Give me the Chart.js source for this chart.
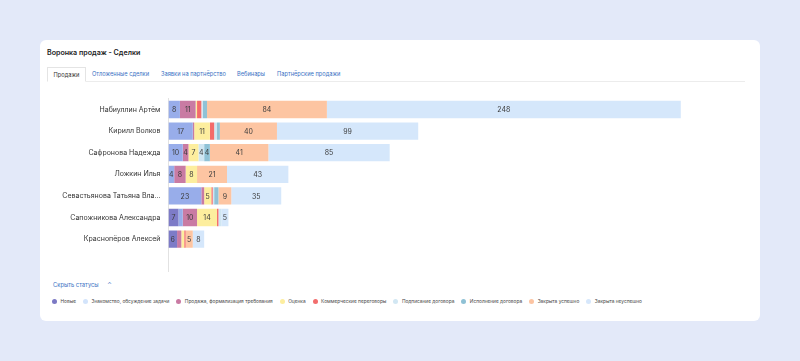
<!DOCTYPE html>
<html>
<head>
<meta charset="utf-8">
<script src="https://cdn.jsdelivr.net/npm/chart.js@4"></script>
<style>
  html, body { margin: 0; padding: 0; }
  body { width: 800px; height: 361px; background: #e3e9f9; font-family: Inter, "Noto Sans", sans-serif; position: relative; overflow: hidden; }
  .card { position: absolute; left: 40px; top: 40px; width: 720px; height: 281px; background: #fff; border-radius: 6px; }
  .title { position: absolute; left: 47px; top: 48px; font-size: 7.1px; font-weight: 600; color: #222; }
  .tabs { position: absolute; left: 47px; top: 67px; width: 698px; height: 14px; border-bottom: 1px solid #ececec; }
  .tab { position: absolute; top: 0; height: 14px; line-height: 14px; font-size: 5.7px; color: #3a72c4; white-space: nowrap; }
  .tab.active { color: #333; border: 1px solid #e4e4e4; border-bottom: 1px solid #fff; box-sizing: border-box; height: 15px; line-height: 13px; width: 39px; text-align: center; background: #fff; left: 0; }
  .chart-box { position: absolute; left: 47px; top: 90px; width: 698px; height: 182px; }
  .toggle { position: absolute; left: 53px; top: 281px; font-size: 5.8px; color: #3a72c4; }
  .toggle span { margin-left: 7px; display: inline-block; }
  .legend { position: absolute; left: 52px; top: 298px; display: flex; align-items: center; font-size: 4.8px; color: #444; white-space: nowrap; }
  .legend .item { display: flex; align-items: center; margin-right: 7px; }
  .legend .dot { width: 5px; height: 5px; border-radius: 50%; margin-right: 3.5px; }
</style>
</head>
<body>
<div class="card"></div>
<div class="title">Воронка продаж - Сделки</div>
<div class="tabs">
  <div class="tab active">Продажи</div>
  <div class="tab" style="left:45px">Отложенные сделки</div>
  <div class="tab" style="left:114px">Заявки на партнёрство</div>
  <div class="tab" style="left:190px">Вебинары</div>
  <div class="tab" style="left:230px">Партнёрские продажи</div>
</div>
<div class="chart-box"><canvas id="funnel"></canvas></div>
<div class="toggle">Скрыть статусы <span>&#8963;</span></div>
<div class="legend" id="legend"></div>

<script>
// ------------------------------
// Data
// ------------------------------

const managers = [
    "Набиуллин Артём",
    "Кирилл Волков",
    "Сафронова Надежда",
    "Ложкин Илья",
    "Севастьянова Татьяна Вла...",
    "Сапожникова Александра",
    "Краснопёров Алексей"
];

const statuses = [
    "Новые",
    "Знакомство, обсуждение задачи",
    "Продажа, формализация требования",
    "Оценка",
    "Коммерческие переговоры",
    "Подписание договора",
    "Исполнение договора",
    "Закрыта успешно",
    "Закрыта неуспешно"
];

const newDeals      = [0, 0, 0, 0, 0, 7, 6];
const intro         = [8, 17, 10, 4, 23, 3, 0];
const requirements  = [11, 1, 4, 8, 2, 10, 3];
const estimate      = [1, 11, 7, 8, 5, 14, 2];
const negotiation   = [3, 3, 0, 0, 1, 1, 1];
const signing       = [1, 2, 4, 0, 1, 2, 0];
const execution     = [3, 2, 4, 0, 3, 0, 0];
const closedWon     = [84, 40, 41, 21, 9, 0, 5];
const closedLost    = [248, 99, 85, 43, 35, 5, 8];

const barColors    = ["#7d7bc7", "#98adea", "#c97ba3", "#fdee9e", "#f46b6b", "#d0e6f2", "#90c2d6", "#fdc5a2", "#d5e7fb"];
const legendColors = ["#7b79c4", "#d3e4fb", "#c97aa3", "#fdee9f", "#f26d6d", "#d2e7f3", "#8fc1d5", "#fcc4a2", "#d6e7fb"];

const series = [newDeals, intro, requirements, estimate, negotiation, signing, execution, closedWon, closedLost];

// ------------------------------
// Value labels inside segments
// ------------------------------

const valueLabels = {
    id: "valueLabels",
    afterDatasetsDraw(chart) {
        const ctx = chart.ctx;
        ctx.save();
        ctx.font = "7px Inter";
        ctx.fillStyle = "#3c3c3c";
        ctx.textAlign = "center";
        ctx.textBaseline = "middle";
        chart.data.datasets.forEach((ds, i) => {
            chart.getDatasetMeta(i).data.forEach((bar, j) => {
                const v = ds.data[j];
                if (!v) return;
                const w = Math.abs(bar.x - bar.base);
                const txt = String(v);
                if (ctx.measureText(txt).width + 0.5 > w) return;
                ctx.fillText(txt, (bar.x + bar.base) / 2, bar.y + 0.5);
            });
        });
        ctx.restore();
    }
};

// ------------------------------
// Chart
// ------------------------------

const funnelChart = new Chart(
    document.getElementById("funnel"),
    {
        type: "bar",
        data: {
            labels: [...managers, ""],
            datasets: statuses.map((name, i) => ({
                label: name,
                data: series[i],
                backgroundColor: barColors[i],
                borderWidth: 0,
                categoryPercentage: 0.8,
                barPercentage: 1
            }))
        },
        options: {
            indexAxis: "y",
            responsive: true,
            maintainAspectRatio: false,
            animation: false,
            layout: {
                padding: { top: 8.7, bottom: 0.5, left: 0, right: 0 }
            },
            plugins: {
                legend: { display: false },
                tooltip: { enabled: false }
            },
            scales: {
                x: {
                    stacked: true,
                    display: false,
                    min: 0,
                    max: 404
                },
                y: {
                    stacked: true,
                    grid: { display: false, drawTicks: false },
                    border: { display: true, color: "#e2e2e2", width: 1 },
                    ticks: {
                        padding: 8,
                        color: "#333",
                        font: { family: "Inter", size: 7 }
                    },
                    afterFit(scale) {
                        scale.width = 121.5;
                        scale.paddingTop = 0;
                        scale.paddingBottom = 0;
                    }
                }
            }
        },
        plugins: [valueLabels]
    }
);

// ------------------------------
// Legend
// ------------------------------

const legend = document.getElementById("legend");
statuses.forEach((name, i) => {
    const item = document.createElement("div");
    item.className = "item";
    item.innerHTML = '<div class="dot" style="background:' + legendColors[i] + '"></div>' + name;
    legend.appendChild(item);
});
</script>
</body>
</html>
